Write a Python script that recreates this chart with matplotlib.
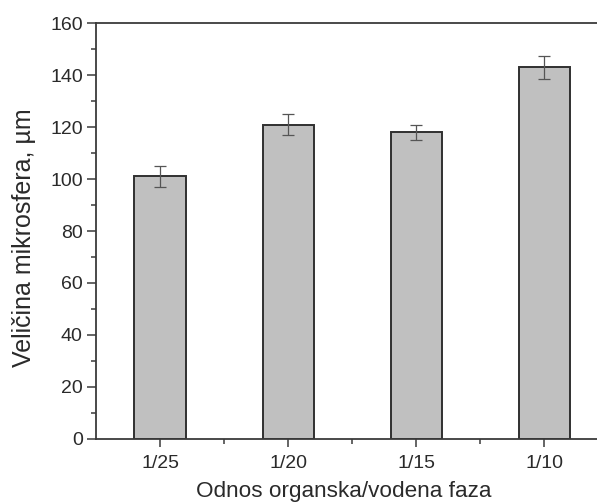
import numpy as np
import matplotlib.pyplot as plt
from matplotlib.ticker import MultipleLocator, FixedLocator

plt.rcParams['font.family'] = ['Liberation Sans', 'DejaVu Sans']

# podaci ocitani sa grafika
odnos = ['1/25', '1/20', '1/15', '1/10']
velicina = [101, 121, 118, 143]
greska = [4.1, 4.2, 3.0, 4.5]

line_c = '#3a3a3a'
text_c = '#2a2a2a'

W, H = 597, 504
fig = plt.figure(figsize=(W / 100, H / 100), dpi=100)
# desna ivica okvira pada van slike, kao na originalu
ax_w, ax_h = 512.5, 415.4
ax = fig.add_axes([96 / W, 65.3 / H, ax_w / W, ax_h / H])

x = np.arange(1, len(odnos) + 1)
ax.bar(x, velicina, width=0.4, color='#c0c0c0', edgecolor='#303030',
       linewidth=1.4, zorder=2)
ax.errorbar(x, velicina, yerr=greska, fmt='none', ecolor='#555555',
            elinewidth=0.9, capsize=4, capthick=0.9, zorder=3)

ax.set_xlim(0.5, 4.5)
ax.set_ylim(0, 160)
ax.set_xticks(x)
ax.set_xticklabels(odnos)
ax.xaxis.set_minor_locator(FixedLocator([1.5, 2.5, 3.5]))
ax.yaxis.set_major_locator(MultipleLocator(20))
ax.yaxis.set_minor_locator(MultipleLocator(10))

ax.tick_params(which='major', direction='out', length=6.5, width=1.1,
               color=line_c, labelsize=14, labelcolor=text_c, pad=3)
ax.tick_params(which='minor', direction='out', length=3.3, width=1.1,
               color=line_c)
ax.tick_params(axis='x', which='major', length=6, pad=6)

for s in ['left', 'bottom', 'top']:
    ax.spines[s].set_color(line_c)
    ax.spines[s].set_linewidth(1.3)
ax.spines['right'].set_visible(False)

ax.set_xlabel('Odnos organska/vodena faza', fontsize=16.2, color=text_c)
ax.set_ylabel('Veličina mikrosfera, µm', fontsize=18, color=text_c)
# polozaj natpisa osa u pikselima slike
ax.xaxis.label.set_va('center')
ax.xaxis.set_label_coords((344 - 96) / ax_w, (438.7 - 492) / ax_h)
ax.yaxis.label.set_va('center')
ax.yaxis.set_label_coords((24 - 96) / ax_w, (438.7 - 237.5) / ax_h)

fig.savefig('out.png', dpi=100)
